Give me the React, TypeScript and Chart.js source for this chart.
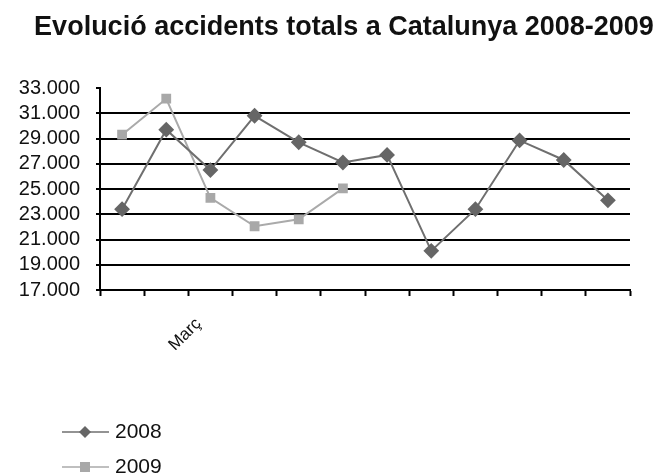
import React, { useEffect, useRef } from "react";
import { Chart, registerables } from "chart.js";

Chart.register(...registerables);

const titleText = "Evolució accidents totals a Catalunya 2008-2009";
const months = ["Gener", "Febrer", "Març", "Abril", "Maig", "Juny", "Juliol", "Agost", "Setembre", "Octubre", "Novembre", "Desembre"];
const visibleLabel = "Març";
const values2008 = [23400, 29700, 26500, 30800, 28700, 27100, 27700, 20100, 23400, 28850, 27300, 24100];
const values2009 = [29300, 32150, 24300, 22050, 22600, 25050, null, null, null, null, null, null];
const seriesNames = ["2008", "2009"];
const yMin = 17000;
const yMax = 33000;
const yStep = 2000;

const FONT = "'Liberation Sans', Arial, sans-serif";

const fmt = (v: number) => v.toString().replace(/\B(?=(\d{3})+(?!\d))/g, ".");

const titlePlugin = {
  id: "customTitle",
  afterDraw(chart: any) {
    const ctx = chart.ctx;
    ctx.save();
    ctx.fillStyle = "#111";
    ctx.font = `bold 27px ${FONT}`;
    ctx.textAlign = "center";
    ctx.textBaseline = "middle";
    ctx.fillText(titleText, 336, 20);
    ctx.restore();
  },
};

const legendPlugin = {
  id: "customLegend",
  afterDraw(chart: any) {
    const ctx = chart.ctx;
    const base = chart.chartArea.bottom;
    ctx.save();
    chart.data.datasets.forEach((ds: any, i: number) => {
      const y = base + 142 + i * 35;
      ctx.strokeStyle = ds.borderColor;
      ctx.lineWidth = 1.5;
      ctx.beginPath();
      ctx.moveTo(54, y);
      ctx.lineTo(101, y);
      ctx.stroke();
      ctx.fillStyle = ds.pointBackgroundColor;
      ctx.beginPath();
      if (ds.pointStyle === "rectRot") {
        const r = 6;
        ctx.moveTo(77, y - r);
        ctx.lineTo(77 + r, y);
        ctx.lineTo(77, y + r);
        ctx.lineTo(77 - r, y);
        ctx.closePath();
      } else {
        ctx.rect(77 - 5, y - 5, 10, 10);
      }
      ctx.fill();
      ctx.fillStyle = "#111";
      ctx.font = `21px ${FONT}`;
      ctx.textBaseline = "middle";
      ctx.textAlign = "left";
      ctx.fillText(ds.label, 107, y);
    });
    ctx.restore();
  },
};

export default function App() {
  const ref = useRef<HTMLCanvasElement | null>(null);
  useEffect(() => {
    if (!ref.current) return;
    const chart = new Chart(ref.current, {
      type: "line",
      data: {
        labels: months,
        datasets: [
          {
            label: seriesNames[0],
            data: values2008,
            borderColor: "#6f6f6f",
            backgroundColor: "#666666",
            pointBackgroundColor: "#666666",
            pointBorderColor: "#666666",
            pointStyle: "rectRot",
            pointRadius: 6.5,
            borderWidth: 2,
            tension: 0,
          },
          {
            label: seriesNames[1],
            data: values2009,
            borderColor: "#aaaaaa",
            backgroundColor: "#a8a8a8",
            pointBackgroundColor: "#a8a8a8",
            pointBorderColor: "#a8a8a8",
            pointStyle: "rect",
            pointRadius: 5.5,
            borderWidth: 2,
            tension: 0,
            spanGaps: false,
          },
        ],
      },
      options: {
        animation: false,
        responsive: true,
        maintainAspectRatio: false,
        layout: { padding: { left: 0, right: 31, top: 80, bottom: 125 } },
        plugins: {
          legend: { display: false },
          tooltip: { enabled: false },
          title: { display: false },
        },
        scales: {
          x: {
            offset: true,
            grid: {
              offset: true,
              drawOnChartArea: false,
              drawTicks: true,
              tickLength: 6,
              tickColor: "#000",
              tickWidth: 2,
            },
            border: { display: true, color: "#000", width: 2 },
            ticks: {
              autoSkip: false,
              minRotation: 45,
              maxRotation: 45,
              padding: 18,
              labelOffset: -12,
              color: "#111",
              font: { family: FONT, size: 17 },
              callback: (_v: any, i: number) => (months[i] === visibleLabel ? months[i] : ""),
            },
            afterFit: (s: any) => {
              s.height = 60;
            },
          },
          y: {
            min: yMin,
            max: yMax,
            grid: {
              color: (c: any) => (c.tick && c.tick.value === yMax ? "rgba(0,0,0,0)" : "#000"),
              tickColor: "#000",
              lineWidth: 2,
              tickLength: 4,
            },
            border: { display: true, color: "#000", width: 2 },
            ticks: {
              stepSize: yStep,
              autoSkip: false,
              padding: 16,
              color: "#111",
              font: { family: FONT, size: 20 },
              callback: (v: any) => fmt(Number(v)),
            },
            afterFit: (s: any) => {
              s.width = 92;
            },
          },
        },
      },
      plugins: [titlePlugin, legendPlugin],
    });
    return () => chart.destroy();
  }, []);
  return (
    <div style={{ width: 653, height: 467, position: "relative" }}>
      <canvas ref={ref} />
    </div>
  );
}
